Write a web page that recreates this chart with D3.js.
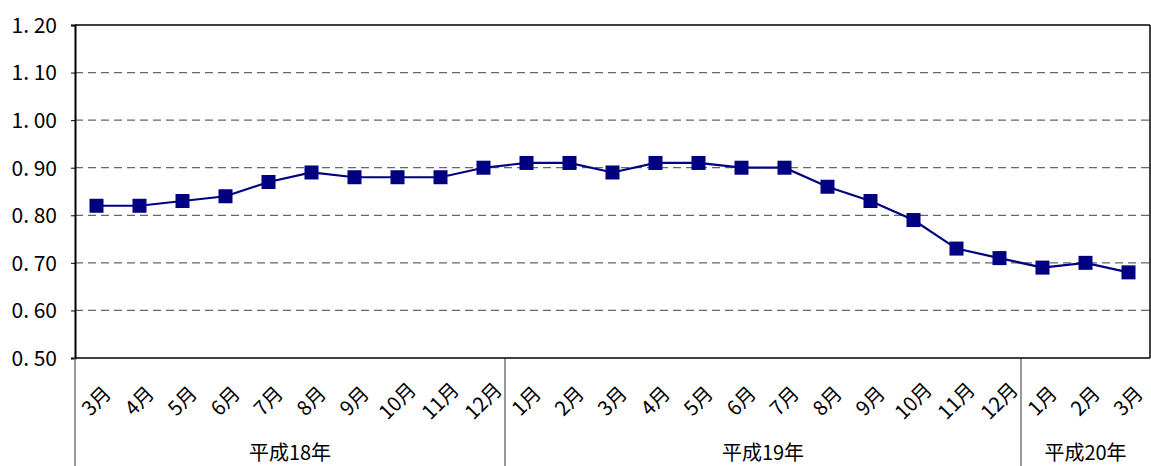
<!doctype html>
<html>
<head>
<meta charset="utf-8">
<style>
  body { margin: 0; background: #fff; }
  svg text { font-family: "Noto Sans CJK JP", sans-serif; fill: #000; }
</style>
<script src="https://d3js.org/d3.v7.min.js"></script>
</head>
<body>
<svg width="1151" height="466"></svg>
<script>
var months = ["3月","4月","5月","6月","7月","8月","9月","10月","11月","12月",
              "1月","2月","3月","4月","5月","6月","7月","8月","9月","10月","11月","12月",
              "1月","2月","3月"];
var values = [0.82,0.82,0.83,0.84,0.87,0.89,0.88,0.88,0.88,0.90,
              0.91,0.91,0.89,0.91,0.91,0.90,0.90,0.86,0.83,0.79,0.73,0.71,
              0.69,0.70,0.68];
var groups = ["平成18年","平成19年","平成20年"];
var groupSizes = [10, 12, 3];
var yTicks = [0.5,0.6,0.7,0.8,0.9,1.0,1.1,1.2];

var svg = d3.select("svg"),
    plotL = 75, plotR = 1150, plotT = 25, plotB = 358;

var idx = d3.range(months.length);
var x = d3.scaleBand().domain(idx).range([plotL, plotR]);
var y = d3.scaleLinear().domain([0.5, 1.2]).range([plotB, plotT]);

// grid
svg.append("g").selectAll("line")
   .data(yTicks.filter(function(d) { return d > 0.5 && d < 1.2; }))
   .enter().append("line")
   .attr("x1", plotL).attr("x2", plotR)
   .attr("y1", function(d) { return y(d); })
   .attr("y2", function(d) { return y(d); })
   .attr("stroke", "#666")
   .attr("stroke-width", 1.2)
   .attr("stroke-dasharray", "8,5");

// frame top / right
svg.append("line").attr("x1", plotL).attr("x2", plotR).attr("y1", plotT).attr("y2", plotT)
   .attr("stroke", "#000").attr("stroke-width", 1.5);
svg.append("line").attr("x1", plotR).attr("x2", plotR).attr("y1", plotT).attr("y2", plotB)
   .attr("stroke", "#000").attr("stroke-width", 1.5);

// y axis
var yAxis = svg.append("g")
   .attr("transform", "translate(" + plotL + ",0)")
   .call(d3.axisLeft(y).tickValues(yTicks).tickSize(4)
         .tickFormat(function(d) { return d.toFixed(2).replace(".", ". "); }));
yAxis.select(".domain").attr("stroke", "#000").attr("stroke-width", 2);
yAxis.selectAll(".tick line").attr("stroke", "#000");
yAxis.selectAll("text").attr("font-size", "21px")
     .attr("font-family", "\"Noto Sans CJK JP\", sans-serif")
     .attr("x", -18).attr("dy", "0.35em").style("white-space", "pre");

// category separators below the plot
var sepX = [plotL];
var acc = 0;
groupSizes.forEach(function(n) { acc += n; sepX.push(x(acc - 1) + x.bandwidth()); });
svg.append("g").selectAll("line")
   .data(sepX.slice(0, sepX.length - 1))
   .enter().append("line")
   .attr("x1", function(d) { return d; }).attr("x2", function(d) { return d; })
   .attr("y1", plotB).attr("y2", 466)
   .attr("stroke", "#777").attr("stroke-width", 1.5);

// bottom axis line
svg.append("line").attr("x1", plotL).attr("x2", plotR).attr("y1", plotB).attr("y2", plotB)
   .attr("stroke", "#000").attr("stroke-width", 1.5);

// month labels
svg.append("g").selectAll("text")
   .data(idx).enter().append("text")
   .attr("transform", function(i) {
       return "translate(" + (x(i) + x.bandwidth() / 2) + ",401) rotate(-45)";
   })
   .attr("text-anchor", "middle")
   .attr("dy", "0.35em")
   .attr("font-size", "20px")
   .text(function(i) { return months[i]; });

// group labels
svg.append("g").selectAll("text")
   .data(groups).enter().append("text")
   .attr("x", function(d, i) { return (sepX[i] + sepX[i + 1]) / 2; })
   .attr("y", 460)
   .attr("text-anchor", "middle")
   .attr("font-size", "20px")
   .text(function(d) { return d; });

// series
var line = d3.line()
   .x(function(i) { return x(i) + x.bandwidth() / 2; })
   .y(function(i) { return y(values[i]); });
svg.append("path").datum(idx)
   .attr("d", line)
   .attr("fill", "none")
   .attr("stroke", "#000080")
   .attr("stroke-width", 2.2);

svg.append("g").selectAll("rect")
   .data(idx).enter().append("rect")
   .attr("x", function(i) { return x(i) + x.bandwidth() / 2 - 7; })
   .attr("y", function(i) { return y(values[i]) - 7; })
   .attr("width", 14).attr("height", 14)
   .attr("fill", "#000080");
</script>
</body>
</html>
